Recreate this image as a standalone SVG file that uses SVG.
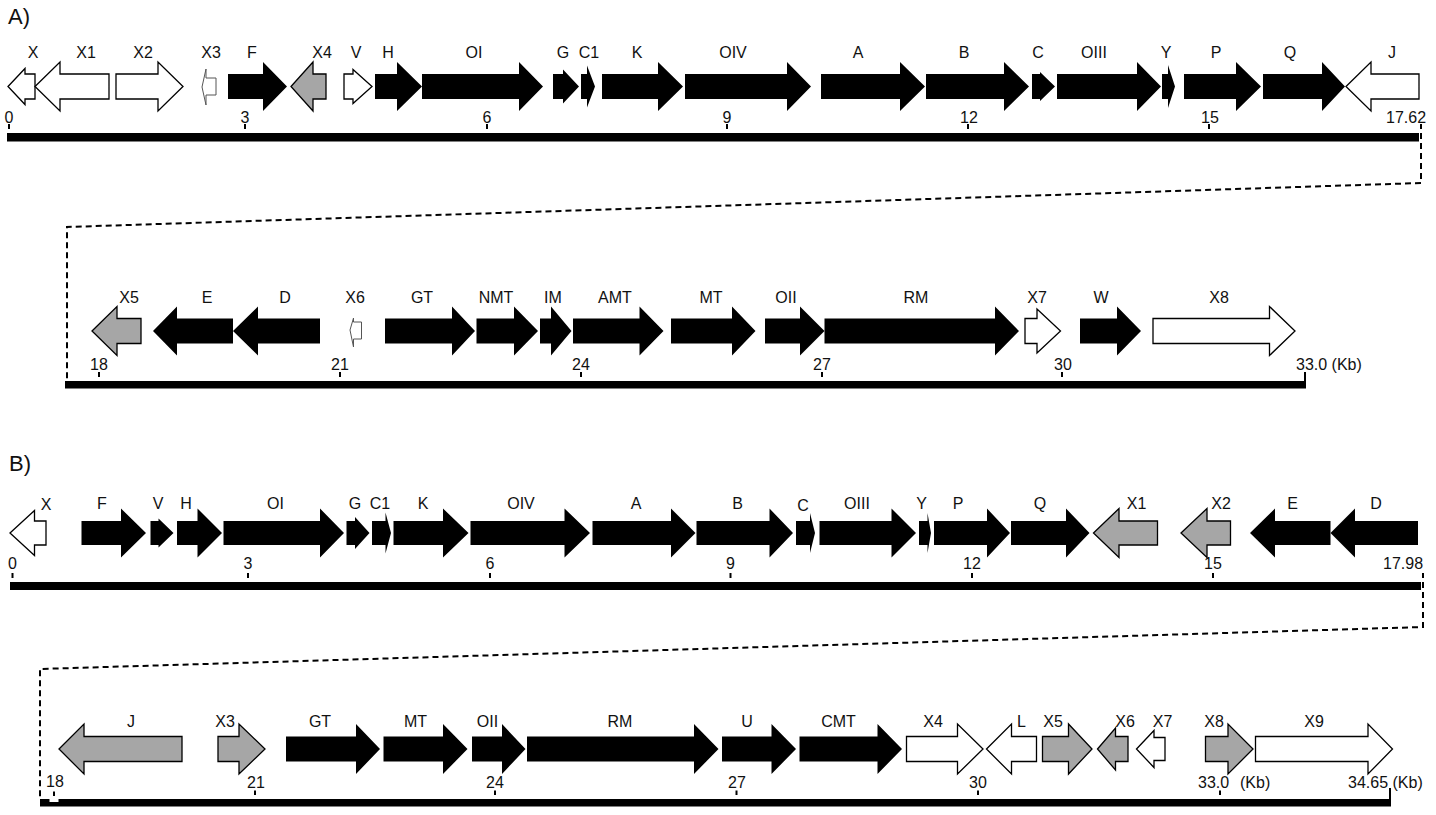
<svg xmlns="http://www.w3.org/2000/svg" width="1436" height="815" viewBox="0 0 1436 815">
<style>
  .blk { fill: #000; }
  .wht { fill: #fff; stroke: #000; stroke-width: 1.3; stroke-linejoin: miter; }
  .gry { fill: #a6a6a6; stroke: #000; stroke-width: 1.3; }
  .tiny { fill: #fff; stroke: #555; stroke-width: 1; }
  .bar { fill: #000; }
  .tick { stroke: #000; stroke-width: 2; }
  .dash { fill: none; stroke: #000; stroke-width: 2; stroke-dasharray: 6 4; }
  text { font-family: "Liberation Sans", Arial, sans-serif; fill: #111; }
  .lbl { font-size: 16px; text-anchor: middle; }
  .num { font-size: 16px; text-anchor: middle; }
  .nums { font-size: 16px; text-anchor: start; }
  .panel { font-size: 22px; }
</style>
<rect width="1436" height="815" fill="#fff"/>

<!-- panel titles -->
<text class="panel" x="8" y="24">A)</text>
<text class="panel" x="9" y="471">B)</text>

<!-- ===== A, first line ===== -->
<g id="scaleA1">
  <rect class="bar" x="7" y="133" width="1412" height="8.5"/>
  <line class="tick" x1="9" y1="124" x2="9" y2="129"/><text class="num" x="9" y="123">0</text>
  <line class="tick" x1="245" y1="124" x2="245" y2="129"/><text class="num" x="245" y="123">3</text>
  <line class="tick" x1="487" y1="124" x2="487" y2="129"/><text class="num" x="487" y="123">6</text>
  <line class="tick" x1="727" y1="124" x2="727" y2="129"/><text class="num" x="727" y="123">9</text>
  <line class="tick" x1="968" y1="124" x2="968" y2="129"/><text class="num" x="969" y="123">12</text>
  <line class="tick" x1="1209" y1="124" x2="1209" y2="129"/><text class="num" x="1210" y="123">15</text>
  <line class="tick" x1="1421" y1="124" x2="1421" y2="129"/><text class="nums" x="1386" y="123">17.62</text>
</g>
<g id="a1-X"><polygon class="wht" points="8,86.5 25,68.5 25,74 35,74 35,99 25,99 25,104.5"/><text class="lbl" x="33" y="57.5">X</text></g>
<g id="a1-X1"><polygon class="wht" points="35,86.5 60,62 60,74 109,74 109,99 60,99 60,111"/><text class="lbl" x="86" y="57.5">X1</text></g>
<g id="a1-X2"><polygon class="wht" points="116,74 158,74 158,62 183,86.5 158,111 158,99 116,99"/><text class="lbl" x="143" y="57.5">X2</text></g>
<g id="a1-X3"><polygon class="tiny" points="202,87 206,69 206,78 216,78 216,95 206,95 206,105"/><text class="lbl" x="211" y="57.5">X3</text></g>
<g id="a1-F"><polygon class="blk" points="228,74 263,74 263,62 287,86.5 263,111 263,99 228,99"/><text class="lbl" x="252" y="57.5">F</text></g>
<g id="a1-X4"><polygon class="gry" points="291,86.5 313,62 313,74 326,74 326,99 313,99 313,111"/><text class="lbl" x="322" y="57.5">X4</text></g>
<g id="a1-V"><polygon class="wht" points="344,74 353,74 353,69.5 372,86.5 353,103.5 353,99 344,99"/><text class="lbl" x="356" y="57.5">V</text></g>
<g id="a1-H"><polygon class="blk" points="375,74 397,74 397,62 422,86.5 397,111 397,99 375,99"/><text class="lbl" x="388" y="57.5">H</text></g>
<g id="a1-OI"><polygon class="blk" points="422,74 519,74 519,62 543,86.5 519,111 519,99 422,99"/><text class="lbl" x="474" y="57.5">OI</text></g>
<g id="a1-G"><polygon class="blk" points="553,74 563,74 563,69.5 579,86.5 563,103.5 563,99 553,99"/><text class="lbl" x="563" y="57.5">G</text></g>
<g id="a1-C1"><polygon class="blk" points="581,74 587,74 587,65.5 595,86.5 587,107.5 587,99 581,99"/><text class="lbl" x="589" y="57.5">C1</text></g>
<g id="a1-K"><polygon class="blk" points="602,74 658,74 658,62 683,86.5 658,111 658,99 602,99"/><text class="lbl" x="637" y="57.5">K</text></g>
<g id="a1-OIV"><polygon class="blk" points="685,74 787,74 787,62 811,86.5 787,111 787,99 685,99"/><text class="lbl" x="733" y="57.5">OIV</text></g>
<g id="a1-A"><polygon class="blk" points="821,74 900,74 900,62 925,86.5 900,111 900,99 821,99"/><text class="lbl" x="858" y="57.5">A</text></g>
<g id="a1-B"><polygon class="blk" points="926,74 1004,74 1004,62 1029,86.5 1004,111 1004,99 926,99"/><text class="lbl" x="964" y="57.5">B</text></g>
<g id="a1-C"><polygon class="blk" points="1032,74 1040,74 1040,72 1055,86.5 1040,101 1040,99 1032,99"/><text class="lbl" x="1038" y="57.5">C</text></g>
<g id="a1-OIII"><polygon class="blk" points="1057,74 1137,74 1137,62 1161,86.5 1137,111 1137,99 1057,99"/><text class="lbl" x="1094" y="57.5">OIII</text></g>
<g id="a1-Y"><polygon class="blk" points="1162,74 1168,74 1168,65 1175,86.5 1168,108 1168,99 1162,99"/><text class="lbl" x="1166" y="57.5">Y</text></g>
<g id="a1-P"><polygon class="blk" points="1184,74 1236,74 1236,62 1261,86.5 1236,111 1236,99 1184,99"/><text class="lbl" x="1216" y="57.5">P</text></g>
<g id="a1-Q"><polygon class="blk" points="1263,74 1322,74 1322,62 1345,86.5 1322,111 1322,99 1263,99"/><text class="lbl" x="1290" y="57.5">Q</text></g>
<g id="a1-J"><polygon class="wht" points="1346,86.5 1371,62 1371,74 1419,74 1419,99 1371,99 1371,111"/><text class="lbl" x="1392" y="57.5">J</text></g>

<!-- ===== A, second line ===== -->
<g id="scaleA2">
  <rect class="bar" x="65" y="381" width="1241" height="7.5"/>
  <line class="tick" x1="99" y1="372" x2="99" y2="377"/><text class="num" x="99" y="370">18</text>
  <line class="tick" x1="340" y1="372" x2="340" y2="377"/><text class="num" x="340" y="370">21</text>
  <line class="tick" x1="581" y1="372" x2="581" y2="377"/><text class="num" x="581" y="370">24</text>
  <line class="tick" x1="822" y1="372" x2="822" y2="377"/><text class="num" x="822" y="370">27</text>
  <line class="tick" x1="1062" y1="372" x2="1062" y2="377"/><text class="num" x="1063" y="370">30</text>
  <line class="tick" x1="1305" y1="372" x2="1305" y2="388"/><text class="nums" x="1296" y="370">33.0 (Kb)</text>
</g>
<g id="a2-X5"><polygon class="gry" points="92,331 117,306.5 117,318.5 141,318.5 141,343.5 117,343.5 117,355.5"/><text class="lbl" x="129" y="303">X5</text></g>
<g id="a2-E"><polygon class="blk" points="153,331 177,306.5 177,318.5 233,318.5 233,343.5 177,343.5 177,355.5"/><text class="lbl" x="207" y="303">E</text></g>
<g id="a2-D"><polygon class="blk" points="233,331 258,306.5 258,318.5 320,318.5 320,343.5 258,343.5 258,355.5"/><text class="lbl" x="285" y="303">D</text></g>
<g id="a2-X6"><polygon class="tiny" points="350,330 353.5,318 353.5,322 361.5,322 361.5,339 353.5,339 353.5,347"/><text class="lbl" x="355" y="303">X6</text></g>
<g id="a2-GT"><polygon class="blk" points="385,318.5 452,318.5 452,306.5 475,331 452,355.5 452,343.5 385,343.5"/><text class="lbl" x="422" y="303">GT</text></g>
<g id="a2-NMT"><polygon class="blk" points="476.5,318.5 514,318.5 514,306.5 538,331 514,355.5 514,343.5 476.5,343.5"/><text class="lbl" x="496" y="303">NMT</text></g>
<g id="a2-IM"><polygon class="blk" points="540,318.5 551,318.5 551,306.5 571.5,331 551,355.5 551,343.5 540,343.5"/><text class="lbl" x="553" y="303">IM</text></g>
<g id="a2-AMT"><polygon class="blk" points="573,318.5 639.5,318.5 639.5,306.5 663.5,331 639.5,355.5 639.5,343.5 573,343.5"/><text class="lbl" x="615" y="303">AMT</text></g>
<g id="a2-MT"><polygon class="blk" points="671,318.5 732,318.5 732,306.5 755.5,331 732,355.5 732,343.5 671,343.5"/><text class="lbl" x="711" y="303">MT</text></g>
<g id="a2-OII"><polygon class="blk" points="765,318.5 800,318.5 800,306.5 824.5,331 800,355.5 800,343.5 765,343.5"/><text class="lbl" x="786" y="303">OII</text></g>
<g id="a2-RM"><polygon class="blk" points="824.5,318.5 995,318.5 995,306.5 1019,331 995,355.5 995,343.5 824.5,343.5"/><text class="lbl" x="916" y="303">RM</text></g>
<g id="a2-X7"><polygon class="wht" points="1025,318.5 1037,318.5 1037,309 1060.5,331 1037,353 1037,343.5 1025,343.5"/><text class="lbl" x="1037" y="303">X7</text></g>
<g id="a2-W"><polygon class="blk" points="1080,318.5 1117,318.5 1117,306.5 1141,331 1117,355.5 1117,343.5 1080,343.5"/><text class="lbl" x="1101" y="303">W</text></g>
<g id="a2-X8"><polygon class="wht" points="1153,318.5 1269.5,318.5 1269.5,306.5 1295,331 1269.5,355.5 1269.5,343.5 1153,343.5"/><text class="lbl" x="1219" y="303">X8</text></g>

<!-- ===== B, first line ===== -->
<g id="scaleB1">
  <rect class="bar" x="10" y="582" width="1411" height="8"/>
  <line class="tick" x1="12.5" y1="573" x2="12.5" y2="578"/><text class="num" x="12.5" y="569">0</text>
  <line class="tick" x1="248" y1="573" x2="248" y2="578"/><text class="num" x="248" y="569">3</text>
  <line class="tick" x1="490" y1="573" x2="490" y2="578"/><text class="num" x="490" y="569">6</text>
  <line class="tick" x1="730.5" y1="573" x2="730.5" y2="578"/><text class="num" x="730.5" y="569">9</text>
  <line class="tick" x1="972" y1="573" x2="972" y2="578"/><text class="num" x="972" y="569">12</text>
  <line class="tick" x1="1213" y1="573" x2="1213" y2="578"/><text class="num" x="1213" y="569">15</text>
  <line class="tick" x1="1423" y1="573" x2="1423" y2="578"/><text class="nums" x="1383" y="569">17.98</text>
</g>
<g id="b1-X"><polygon class="wht" points="10,533 34.5,510.5 34.5,521 46,521 46,545 34.5,545 34.5,555.5"/><text class="lbl" x="46" y="510">X</text></g>
<g id="b1-F"><polygon class="blk" points="81.5,521 121,521 121,508.5 146,533 121,557.5 121,545 81.5,545"/><text class="lbl" x="102" y="509">F</text></g>
<g id="b1-V"><polygon class="blk" points="150.5,521 158.5,521 158.5,518.5 173.5,533 158.5,547.5 158.5,545 150.5,545"/><text class="lbl" x="158" y="509">V</text></g>
<g id="b1-H"><polygon class="blk" points="177,521 197.5,521 197.5,508.5 222,533 197.5,557.5 197.5,545 177,545"/><text class="lbl" x="186" y="509">H</text></g>
<g id="b1-OI"><polygon class="blk" points="223.5,521 320,521 320,508.5 344,533 320,557.5 320,545 223.5,545"/><text class="lbl" x="275.5" y="509">OI</text></g>
<g id="b1-G"><polygon class="blk" points="346.5,521 355,521 355,517 369.5,533 355,549 355,545 346.5,545"/><text class="lbl" x="355" y="509">G</text></g>
<g id="b1-C1"><polygon class="blk" points="372,521 385.5,521 385.5,512.5 391,533 385.5,553.5 385.5,545 372,545"/><text class="lbl" x="380" y="509">C1</text></g>
<g id="b1-K"><polygon class="blk" points="393.5,521 443,521 443,508.5 468.5,533 443,557.5 443,545 393.5,545"/><text class="lbl" x="423" y="509">K</text></g>
<g id="b1-OIV"><polygon class="blk" points="470.5,521 564.5,521 564.5,508.5 590,533 564.5,557.5 564.5,545 470.5,545"/><text class="lbl" x="521" y="509">OIV</text></g>
<g id="b1-A"><polygon class="blk" points="592.5,521 671,521 671,508.5 695.5,533 671,557.5 671,545 592.5,545"/><text class="lbl" x="636" y="509">A</text></g>
<g id="b1-B"><polygon class="blk" points="696.5,521 769.5,521 769.5,508.5 793,533 769.5,557.5 769.5,545 696.5,545"/><text class="lbl" x="737.5" y="509">B</text></g>
<g id="b1-C"><polygon class="blk" points="796,521 810,521 810,513 815,533 810,553 810,545 796,545"/><text class="lbl" x="803" y="511">C</text></g>
<g id="b1-OIII"><polygon class="blk" points="819.5,521 891.5,521 891.5,508.5 916,533 891.5,557.5 891.5,545 819.5,545"/><text class="lbl" x="857" y="509">OIII</text></g>
<g id="b1-Y"><polygon class="blk" points="919,521 927.5,521 927.5,513 931,533 927.5,553 927.5,545 919,545"/><text class="lbl" x="921.5" y="509">Y</text></g>
<g id="b1-P"><polygon class="blk" points="934,521 987,521 987,508.5 1010,533 987,557.5 987,545 934,545"/><text class="lbl" x="958" y="509">P</text></g>
<g id="b1-Q"><polygon class="blk" points="1011,521 1066,521 1066,508.5 1089.5,533 1066,557.5 1066,545 1011,545"/><text class="lbl" x="1040" y="509">Q</text></g>
<g id="b1-X1"><polygon class="gry" points="1093.5,533 1119,508.5 1119,521 1157.5,521 1157.5,545 1119,545 1119,557.5"/><text class="lbl" x="1136.5" y="509">X1</text></g>
<g id="b1-X2"><polygon class="gry" points="1181,533 1207,508.5 1207,521 1230.5,521 1230.5,545 1207,545 1207,557.5"/><text class="lbl" x="1221" y="509">X2</text></g>
<g id="b1-E"><polygon class="blk" points="1250,533 1275,508.5 1275,521 1330.5,521 1330.5,545 1275,545 1275,557.5"/><text class="lbl" x="1292.5" y="509">E</text></g>
<g id="b1-D"><polygon class="blk" points="1330.5,533 1355,508.5 1355,521 1418,521 1418,545 1355,545 1355,557.5"/><text class="lbl" x="1376" y="509">D</text></g>

<!-- ===== B, second line ===== -->
<g id="scaleB2">
  <rect class="bar" x="40" y="799" width="1351" height="7.5"/>
  <rect x="49.5" y="798.5" width="9" height="3.5" fill="#fff"/>
  <line class="tick" x1="54" y1="791.5" x2="54" y2="796"/><text class="num" x="55" y="787">18</text>
  <line class="tick" x1="255" y1="790.5" x2="255" y2="795"/><text class="num" x="256" y="788">21</text>
  <line class="tick" x1="495" y1="790.5" x2="495" y2="795"/><text class="num" x="495" y="788">24</text>
  <line class="tick" x1="736.5" y1="790.5" x2="736.5" y2="795"/><text class="num" x="737" y="788">27</text>
  <line class="tick" x1="978" y1="790.5" x2="978" y2="795"/><text class="num" x="978" y="788">30</text>
  <line class="tick" x1="1220" y1="790.5" x2="1220" y2="795"/><text class="nums" x="1198" y="788">33.0</text><text class="nums" x="1240" y="788">(Kb)</text>
  <line class="tick" x1="1390" y1="788" x2="1390" y2="806"/><text class="nums" x="1348" y="788">34.65 (Kb)</text>
</g>
<g id="b2-J"><polygon class="gry" points="59,749 84,724 84,736.5 182,736.5 182,761.5 84,761.5 84,774"/><text class="lbl" x="131" y="727">J</text></g>
<g id="b2-X3"><polygon class="gry" points="218,736.5 239,736.5 239,724 265,749 239,774 239,761.5 218,761.5"/><text class="lbl" x="225" y="727">X3</text></g>
<g id="b2-GT"><polygon class="blk" points="286,736.5 356,736.5 356,724 380,749 356,774 356,761.5 286,761.5"/><text class="lbl" x="320" y="727">GT</text></g>
<g id="b2-MT"><polygon class="blk" points="383.5,736.5 443,736.5 443,724 467.5,749 443,774 443,761.5 383.5,761.5"/><text class="lbl" x="415.5" y="727">MT</text></g>
<g id="b2-OII"><polygon class="blk" points="472,736.5 502,736.5 502,724 525.5,749 502,774 502,761.5 472,761.5"/><text class="lbl" x="487.5" y="727">OII</text></g>
<g id="b2-RM"><polygon class="blk" points="527,736.5 694,736.5 694,724 718.5,749 694,774 694,761.5 527,761.5"/><text class="lbl" x="620" y="727">RM</text></g>
<g id="b2-U"><polygon class="blk" points="722,736.5 771.5,736.5 771.5,724 796,749 771.5,774 771.5,761.5 722,761.5"/><text class="lbl" x="747" y="727">U</text></g>
<g id="b2-CMT"><polygon class="blk" points="799.5,736.5 877.5,736.5 877.5,724 902,749 877.5,774 877.5,761.5 799.5,761.5"/><text class="lbl" x="838.5" y="727">CMT</text></g>
<g id="b2-X4"><polygon class="wht" points="906.5,736.5 957.5,736.5 957.5,724 983,749 957.5,774 957.5,761.5 906.5,761.5"/><text class="lbl" x="933" y="727">X4</text></g>
<g id="b2-L"><polygon class="wht" points="986.5,749 1011.5,724 1011.5,736.5 1036.5,736.5 1036.5,761.5 1011.5,761.5 1011.5,774"/><text class="lbl" x="1021.5" y="727">L</text></g>
<g id="b2-X5"><polygon class="gry" points="1042.5,736.5 1068.5,736.5 1068.5,724 1092,749 1068.5,774 1068.5,761.5 1042.5,761.5"/><text class="lbl" x="1053" y="727">X5</text></g>
<g id="b2-X6"><polygon class="gry" points="1097.5,749 1115.5,728 1115.5,736.5 1128,736.5 1128,761.5 1115.5,761.5 1115.5,770"/><text class="lbl" x="1125" y="727">X6</text></g>
<g id="b2-X7"><polygon class="wht" points="1136.5,749 1154,730.5 1154,737.5 1165,737.5 1165,760.5 1154,760.5 1154,767.5"/><text class="lbl" x="1162.5" y="727">X7</text></g>
<g id="b2-X8"><polygon class="gry" points="1205.5,736.5 1228,736.5 1228,724 1253,749 1228,774 1228,761.5 1205.5,761.5"/><text class="lbl" x="1214" y="727">X8</text></g>
<g id="b2-X9"><polygon class="wht" points="1255.5,736.5 1368,736.5 1368,724 1392.5,749 1368,774 1368,761.5 1255.5,761.5"/><text class="lbl" x="1314" y="727">X9</text></g>

<!-- dashed continuation links between the two halves of each map -->
<g id="connectors">
  <path class="dash" d="M1421,133 V183 L67,227 V381"/>
  <path class="dash" d="M1423,582 V627 L40,669 V799"/>
</g>
</svg>
